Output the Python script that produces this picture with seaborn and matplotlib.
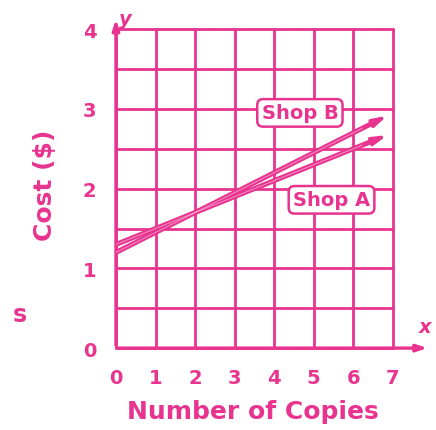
import matplotlib
matplotlib.use("Agg")
import matplotlib.pyplot as plt
import seaborn as sns
import pandas as pd

# values
copies = [0, 7]
shop_a = [1.3, 2.7]
shop_b = [1.2, 2.95]
x_ticks = [0, 1, 2, 3, 4, 5, 6, 7]
y_ticks = [0, 1, 2, 3, 4]
labels = {"Shop A": (5.45, 1.86), "Shop B": (4.65, 2.95)}

PINK = "#e8348f"

sns.set_style("white")
plt.rcParams["font.family"] = ["DejaVu Sans"]

fig = plt.figure(figsize=(4.36, 4.31), dpi=100)
ax = fig.add_axes([0.266, 0.19, 0.635, 0.74])

# grid
for gx in x_ticks:
    ax.axvline(gx, color=PINK, lw=2.0, zorder=1, clip_on=False)
for k in range(9):
    ax.axhline(k * 0.5, color=PINK, lw=2.0, zorder=1, clip_on=False)

# the two lines, stopped a bit short so the arrow heads sit at the end
cut = 0.93
for name, ys in [("Shop A", shop_a), ("Shop B", shop_b)]:
    x0, x1 = copies
    y0, y1 = ys
    xe = x0 + (x1 - x0) * cut
    ye = y0 + (y1 - y0) * cut
    line = pd.DataFrame({"copies": [x0, xe], "cost": [y0, ye]})
    sns.lineplot(data=line, x="copies", y="cost", ax=ax, color=PINK, lw=3.6, zorder=3)
    ax.plot([x0, xe], [y0, ye], color="white", lw=0.7, alpha=0.45, zorder=4)
    xs = x0 + (x1 - x0) * 0.99
    ys_ = y0 + (y1 - y0) * 0.99
    ax.annotate("", xy=(xs, ys_), xytext=(xe - 0.3, ye - 0.3 * (y1 - y0) / (x1 - x0)),
                arrowprops=dict(arrowstyle="-|>,head_length=0.8,head_width=0.22",
                                color=PINK, lw=2.6), zorder=5)

for name, (lx, ly) in labels.items():
    ax.text(lx, ly, name, color=PINK, fontsize=14, fontweight="bold", ha="center", va="center",
            zorder=6, bbox=dict(boxstyle="round,pad=0.22,rounding_size=0.3", fc="white",
                                ec=PINK, lw=1.8))

ax.set_xlim(0, 7)
ax.set_ylim(0, 4)
ax.set_xticks(x_ticks)
ax.set_yticks(y_ticks)
ax.tick_params(length=0, colors=PINK, labelsize=14, pad=14)
for t in ax.get_xticklabels() + ax.get_yticklabels():
    t.set_fontweight("bold")
for s in ax.spines.values():
    s.set_visible(False)
ax.set_xlabel("")
ax.set_ylabel("")

# axis arrows
ax.annotate("", xy=(1.135, 0), xycoords="axes fraction", xytext=(0, 0),
            arrowprops=dict(arrowstyle="-|>,head_length=0.6,head_width=0.2", color=PINK, lw=2.4))
ax.annotate("", xy=(0, 1.04), xycoords="axes fraction", xytext=(0, 0),
            arrowprops=dict(arrowstyle="-|>,head_length=0.6,head_width=0.2", color=PINK, lw=2.4))
fig.text(0.287, 0.955, "y", color=PINK, fontsize=14, style="italic", fontweight="bold",
         ha="center", va="center")
fig.text(0.975, 0.24, "x", color=PINK, fontsize=14, style="italic", fontweight="bold",
         ha="center", va="center")

fig.text(0.58, 0.043, "Number of Copies", color=PINK, fontsize=18, fontweight="bold",
         ha="center", va="center")
fig.text(0.103, 0.57, "Cost ($)", color=PINK, fontsize=18, fontweight="bold",
         ha="center", va="center", rotation=90)
fig.text(0.03, 0.27, "s", color=PINK, fontsize=17, fontweight="bold", ha="left", va="center")

fig.savefig("out.png", dpi=100)
